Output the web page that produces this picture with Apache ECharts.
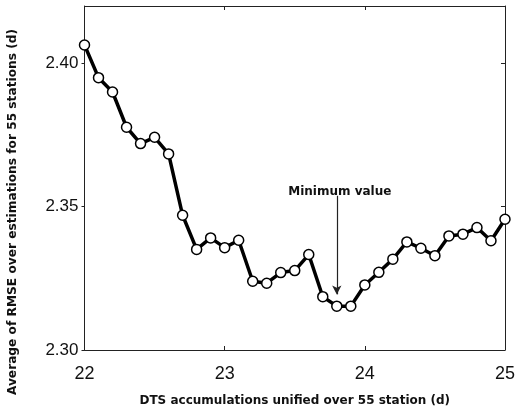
<!DOCTYPE html>
<html>
<head>
<meta charset="utf-8">
<script src="https://cdn.jsdelivr.net/npm/echarts@6/dist/echarts.min.js"></script>
<style>html,body{margin:0;padding:0;background:#fff}#c{width:518px;height:412px}</style>
</head>
<body>
<div id="c"></div>
<script>
var accumulations = [22.0,22.1,22.2,22.3,22.4,22.5,22.6,22.7,22.8,22.9,23.0,23.1,23.2,23.3,23.4,23.5,23.6,23.7,23.8,23.9,24.0,24.1,24.2,24.3,24.4,24.5,24.6,24.7,24.8,24.9,25.0];
var rmse = [2.4064,2.3950,2.3900,2.3777,2.3720,2.3742,2.3684,2.3470,2.3351,2.3391,2.3357,2.3383,2.3240,2.3233,2.3270,2.3277,2.3333,2.3186,2.3153,2.3153,2.3227,2.3271,2.3317,2.3377,2.3355,2.3329,2.3398,2.3404,2.3427,2.3381,2.3456];
var arrowX = 23.8, arrowFrom = 2.3538, arrowTo = 2.3194;
var annotationText = 'Minimum value';
var xTitle = 'DTS accumulations unified over 55 station (d)';
var yTitle = 'Average of RMSE over estimations for 55 stations (d)';

var chart = echarts.init(document.getElementById('c'), null, {renderer:'canvas'});
var pts = accumulations.map(function(x,i){return [x, rmse[i]];});
var font = 'Liberation Sans, Arial, sans-serif';
var tfont = 'DejaVu Sans, sans-serif';
var axisCol = '#222';
chart.setOption({
  animation:false,
  backgroundColor:'#fff',
  grid:{left:84.5, right:9.5, top:6, bottom:59},
  xAxis:[{
    type:'value', min:22, max:25, interval:1,
    name:xTitle, nameLocation:'middle', nameGap:45,
    nameTextStyle:{fontFamily:tfont, fontSize:12, fontWeight:'bold', color:'#111'},
    axisLine:{lineStyle:{color:axisCol, width:1}},
    axisTick:{inside:true, length:4, lineStyle:{color:axisCol}},
    axisLabel:{fontFamily:font, fontSize:18, color:'#111', margin:15},
    splitLine:{show:false}
  },{
    type:'value', position:'top', min:22, max:25, interval:1,
    axisLine:{show:true, lineStyle:{color:axisCol, width:1}},
    axisTick:{inside:true, length:4, lineStyle:{color:axisCol}},
    axisLabel:{show:false}, splitLine:{show:false}
  }],
  yAxis:[{
    type:'value', min:2.30, max:2.42, interval:0.05,
    axisLine:{show:true, lineStyle:{color:axisCol, width:1}},
    axisTick:{inside:false, length:3, lineStyle:{color:axisCol}},
    axisLabel:{fontFamily:font, fontSize:17, color:'#111', margin:6, showMaxLabel:false,
      formatter:function(v){return v.toFixed(2);}},
    splitLine:{show:false}
  },{
    type:'value', position:'right', min:2.30, max:2.42, interval:0.05,
    axisLine:{show:true, lineStyle:{color:axisCol, width:1}},
    axisTick:{inside:true, length:4, lineStyle:{color:axisCol}},
    axisLabel:{show:false}, splitLine:{show:false}
  }],
  graphic:[{
    type:'text', x:13, y:212, rotation:Math.PI/2,
    style:{text:yTitle, fontFamily:tfont, fontSize:12.2, fontWeight:'bold', fill:'#111',
      textAlign:'center', textVerticalAlign:'middle'}
  }],
  series:[{
    type:'line', data:pts, xAxisIndex:0, yAxisIndex:0,
    symbol:'circle', symbolSize:10, showAllSymbol:true,
    lineStyle:{color:'#000', width:3.5},
    itemStyle:{color:'#fff', borderColor:'#000', borderWidth:1.5},
    markLine:{
      silent:true, symbol:['none','arrow'], symbolSize:[7,9],
      lineStyle:{color:'#222', width:1.2, type:'solid'},
      label:{show:true, position:'start', formatter:annotationText, distance:-2,
        padding:[0,0,0,6],
        fontFamily:tfont, fontSize:12, fontWeight:'bold', color:'#111'},
      data:[[{coord:[arrowX, arrowFrom]},{coord:[arrowX, arrowTo]}]]
    }
  }]
});
</script>
</body>
</html>
